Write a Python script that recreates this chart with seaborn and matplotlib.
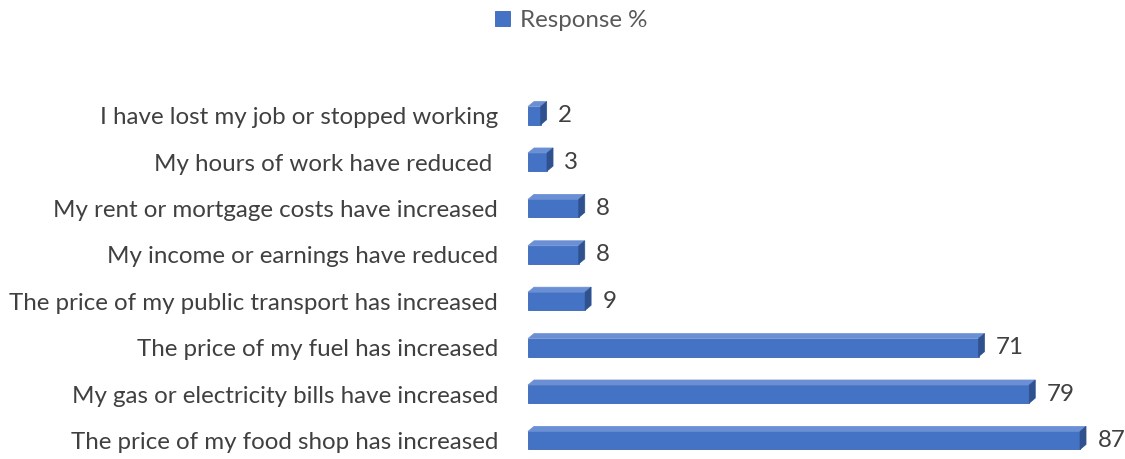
import matplotlib
matplotlib.use("Agg")
import matplotlib.pyplot as plt
from matplotlib.patches import Polygon
import seaborn as sns
import pandas as pd

categories = [
    "I have lost my job or stopped working",
    "My hours of work have reduced ",
    "My rent or mortgage costs have increased",
    "My income or earnings have reduced",
    "The price of my public transport has increased",
    "The price of my fuel has increased",
    "My gas or electricity bills have increased",
    "The price of my food shop has increased",
]
values = [2, 3, 8, 8, 9, 71, 79, 87]
series_name = "Response %"

FRONT = "#4472C4"
TOP = "#6A8FD4"
SIDE = "#2F528F"
TEXT = "#404040"
FS = 17.35

sns.set_theme(style="white")
plt.rcParams["font.family"] = ["Lato", "DejaVu Sans"]

df = pd.DataFrame({"category": categories, "value": values})

W, H, DPI = 1125, 459, 100
fig = plt.figure(figsize=(W / DPI, H / DPI), dpi=DPI)
ax = fig.add_axes([528 / W, 0, 592 / W, 366.6 / H])

sns.barplot(data=df, x="value", y="category", orient="h", color=FRONT,
            saturation=1, width=0.39, label=series_name, ax=ax,
            edgecolor="#3A66B5", linewidth=0.6, legend=False)

ax.set_xlim(0, 93.3)
ax.set_ylim(7.4, -0.5)
for s in ax.spines.values():
    s.set_visible(False)
ax.set_xticks([])
ax.set_xlabel("")
ax.set_ylabel("")
ax.tick_params(axis="y", length=0, pad=21.5, labelsize=FS, labelcolor=TEXT)

fig.canvas.draw()

# extruded top and side faces for a 3D look, built from the drawn bars
dx, dy = 6, 5
bars = [p for p in ax.patches if p.get_width() > 0]
for bar, val in zip(bars, values):
    x0, y0 = bar.get_x(), bar.get_y()
    x1, y1 = x0 + bar.get_width(), y0 + bar.get_height()
    (ax0, ay_a), (ax1, ay_b) = ax.transData.transform([(x0, y0), (x1, y1)])
    top_y = max(ay_a, ay_b)
    bot_y = min(ay_a, ay_b)
    top_face = [(ax0, top_y), (ax1, top_y), (ax1 + dx, top_y + dy), (ax0 + dx, top_y + dy)]
    side_face = [(ax1, top_y), (ax1 + dx, top_y + dy), (ax1 + dx, bot_y + dy), (ax1, bot_y)]
    for verts, col in ((top_face, TOP), (side_face, SIDE)):
        fig.patches.append(Polygon(verts, closed=True, facecolor=col,
                                   edgecolor=col, linewidth=0.5,
                                   transform=None, figure=fig))
    ax.annotate(f"{val}", xy=(x1, (y0 + y1) / 2), xytext=(12.5, 0),
                textcoords="offset points", ha="left", va="center",
                fontsize=FS, color=TEXT, annotation_clip=False)

legend_handle = bars[0]
fig.legend([legend_handle], [series_name], loc="upper center",
           bbox_to_anchor=(0.508, 1.025), frameon=False, fontsize=FS,
           labelcolor="#595959", handlelength=0.6, handleheight=0.6,
           handletextpad=0.45)

fig.savefig("out.png", dpi=DPI)
